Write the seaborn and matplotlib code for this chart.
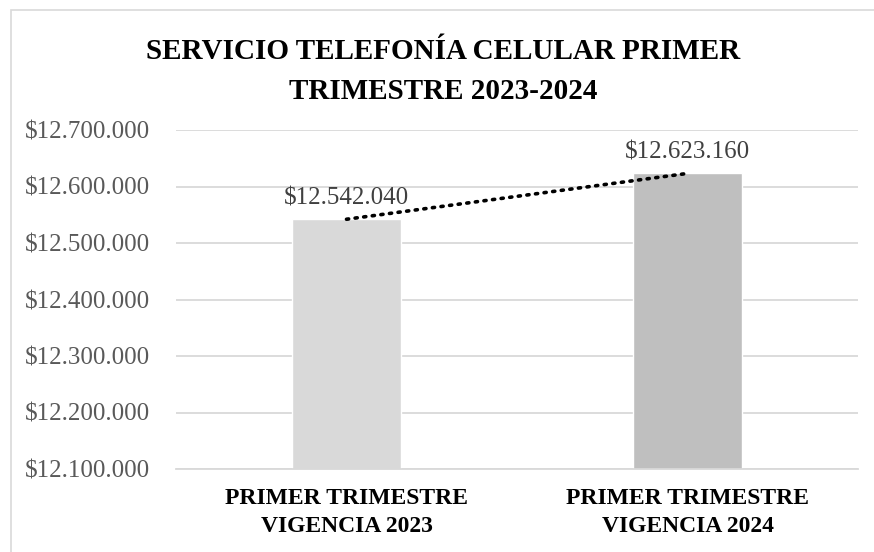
import numpy as np
import pandas as pd
import matplotlib
matplotlib.use("Agg")
import matplotlib.pyplot as plt
import seaborn as sns
from matplotlib.ticker import FuncFormatter, MultipleLocator
from matplotlib.patches import Rectangle

# ---------------------------------------------------------------------------
# Data
# ---------------------------------------------------------------------------
categories = ["PRIMER TRIMESTRE\nVIGENCIA 2023", "PRIMER TRIMESTRE\nVIGENCIA 2024"]
values = [12542040, 12623160]
bar_colors = ["#d9d9d9", "#bfbfbf"]
title = "SERVICIO TELEFONÍA CELULAR PRIMER\nTRIMESTRE 2023-2024"

def peso(v):
    return "$" + f"{v:,.0f}".replace(",", ".")

sns.set_theme(style="white")
plt.rcParams["font.family"] = ["Liberation Serif", "DejaVu Serif"]

df = pd.DataFrame({"cat": categories, "val": values})

fig = plt.figure(figsize=(8.74, 5.52), dpi=100)
# chart-area border (only left and top visible in the crop)
fig.patches.append(Rectangle((11 / 874, -0.5), 2.0, 1.5 - 10 / 552,
                             transform=fig.transFigure, fill=False,
                             edgecolor="#d9d9d9", linewidth=1.2))
ax = fig.add_axes([176 / 874, 1 - 469 / 552, 682 / 874, 339 / 552])

sns.barplot(data=df, x="cat", y="val", hue="cat", palette=bar_colors,
            width=0.317, legend=False, ax=ax, zorder=2)

ax.set_xlim(-0.5, 1.5)
ax.set_ylim(12100000, 12700000)
ax.yaxis.set_major_locator(MultipleLocator(100000))
ax.yaxis.set_major_formatter(FuncFormatter(lambda v, p: peso(v)))
ax.grid(axis="y", color="#d9d9d9", linewidth=1.3, zorder=0)
ax.set_axisbelow(True)
for s in ["top", "right", "left"]:
    ax.spines[s].set_visible(False)
ax.spines["bottom"].set_color("#d9d9d9")
ax.spines["bottom"].set_linewidth(1.3)

ax.set_xlabel("")
ax.set_ylabel("")
ax.tick_params(axis="y", length=0, pad=19, labelsize=18, labelcolor="#595959")
ax.tick_params(axis="x", length=0, pad=14)
for lab in ax.get_xticklabels():
    lab.set_fontsize(17)
    lab.set_fontweight("bold")
    lab.set_color("black")
    lab.set_linespacing(1.4)

# data labels
for i, v in enumerate(values):
    ax.text(i, v + 18000, peso(v), ha="center", va="bottom",
            fontsize=18, color="#404040")

# linear trendline
xs = np.arange(len(values))
coef = np.polyfit(xs, values, 1)
ax.plot(xs, np.polyval(coef, xs), linestyle=(0, (0.6, 1.8)), color="black",
        linewidth=2.6, dash_capstyle="round", zorder=3)

fig.text(0.5 + 6 / 874, 1 - 38 / 552, title, ha="center", va="top",
         fontsize=21, fontweight="bold", linespacing=1.6, color="black")

fig.savefig("out.png", dpi=100)
